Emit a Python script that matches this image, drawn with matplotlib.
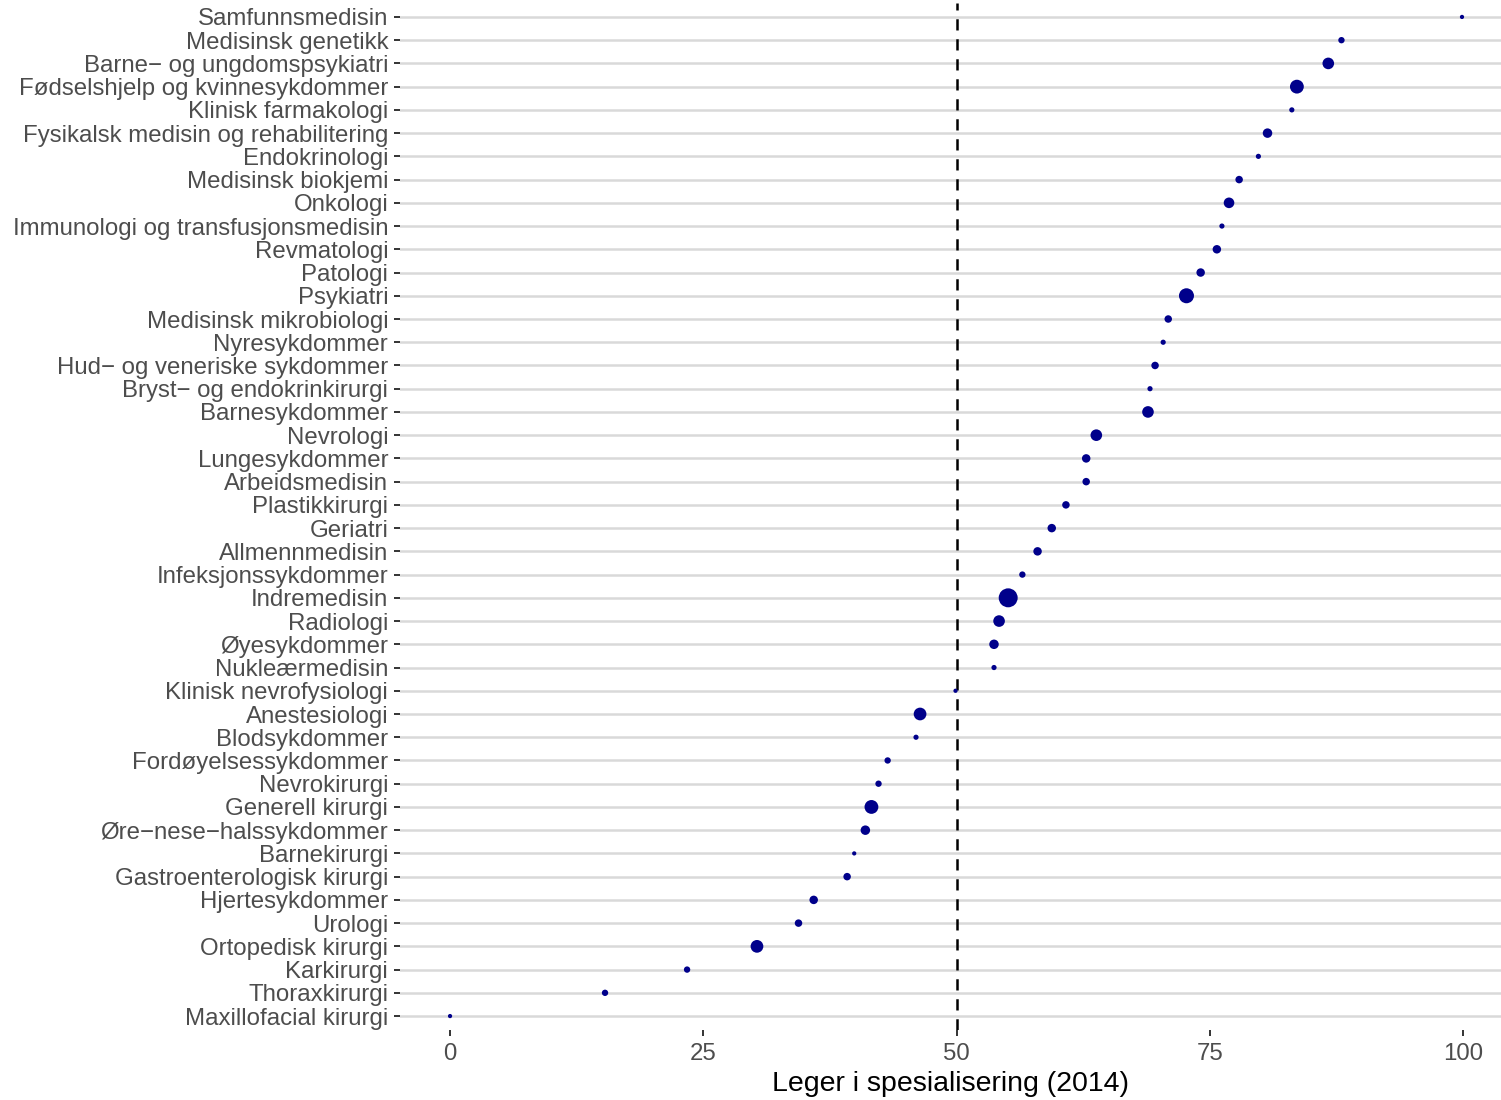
import numpy as np
import matplotlib
matplotlib.use("Agg")
import matplotlib.pyplot as plt

plt.rcParams['font.family'] = ['Liberation Sans', 'DejaVu Sans']

# specialities, top to bottom as in the chart
specialities = [
    'Samfunnsmedisin', 'Medisinsk genetikk', 'Barne\u2212 og ungdomspsykiatri',
    'Fødselshjelp og kvinnesykdommer', 'Klinisk farmakologi',
    'Fysikalsk medisin og rehabilitering', 'Endokrinologi', 'Medisinsk biokjemi',
    'Onkologi', 'Immunologi og transfusjonsmedisin', 'Revmatologi', 'Patologi',
    'Psykiatri', 'Medisinsk mikrobiologi', 'Nyresykdommer',
    'Hud\u2212 og veneriske sykdommer', 'Bryst\u2212 og endokrinkirurgi',
    'Barnesykdommer', 'Nevrologi', 'Lungesykdommer', 'Arbeidsmedisin',
    'Plastikkirurgi', 'Geriatri', 'Allmennmedisin', 'Infeksjonssykdommer',
    'Indremedisin', 'Radiologi', 'Øyesykdommer', 'Nukleærmedisin',
    'Klinisk nevrofysiologi', 'Anestesiologi', 'Blodsykdommer',
    'Fordøyelsessykdommer', 'Nevrokirurgi', 'Generell kirurgi',
    'Øre\u2212nese\u2212halssykdommer', 'Barnekirurgi', 'Gastroenterologisk kirurgi',
    'Hjertesykdommer', 'Urologi', 'Ortopedisk kirurgi', 'Karkirurgi',
    'Thoraxkirurgi', 'Maxillofacial kirurgi',
]

# share (%) of doctors in specialisation, 2014
share = [
    99.9, 88.0, 86.7, 83.6, 83.1, 80.7, 79.8, 77.9, 76.9, 76.2, 75.7, 74.1,
    72.7, 70.9, 70.4, 69.6, 69.1, 68.9, 63.8, 62.8, 62.8, 60.8, 59.4, 58.0,
    56.5, 55.1, 54.2, 53.7, 53.7, 49.9, 46.4, 46.0, 43.2, 42.3, 41.6, 41.0,
    39.9, 39.2, 35.9, 34.4, 30.3, 23.4, 15.3, 0.0,
]

# number of doctors (point size)
n_doctors = [
    8, 18, 60, 85, 12, 40, 12, 25, 50, 12, 32, 32,
    100, 25, 12, 25, 12, 60, 60, 32, 25, 25, 32, 32,
    18, 160, 60, 40, 12, 8, 72, 12, 18, 18, 85, 40,
    8, 25, 32, 25, 72, 18, 18, 8,
]

fig = plt.figure(figsize=(15.01, 11), dpi=100)
ax = fig.add_axes([400 / 1501, 1 - 1030 / 1100, 1101 / 1501, 1027 / 1100])

n = len(specialities)
ypos = np.arange(n)[::-1]

for y in ypos:
    ax.axhline(y, color='#d9d9d9', lw=1.8, zorder=0)
ax.axvline(50, color='black', lw=1.8, ls=(0, (4.5, 3.5)), zorder=1)

px2pt = 0.72
sizes = [(np.sqrt(v) * 1.5 * px2pt) ** 2 for v in n_doctors]
ax.scatter(share, ypos, s=sizes, color='#00008B', zorder=3, linewidths=0)

ax.set_xlim(-4.94, 103.75)
ax.set_ylim(-0.6, n - 1 + 0.6)
ax.set_yticks(ypos)
ax.set_yticklabels(specialities)
ax.set_xticks([0, 25, 50, 75, 100])
ax.tick_params(axis='both', colors='#333333', length=4.5, width=1.4, labelsize=17.3,
               labelcolor='#4d4d4d')
ax.tick_params(axis='x', pad=5)
ax.tick_params(axis='y', pad=4)
for s in ax.spines.values():
    s.set_visible(False)
ax.set_xlabel('Leger i spesialisering (2014)', fontsize=20.5, color='black', labelpad=4)

fig.savefig('out.png', dpi=100)
